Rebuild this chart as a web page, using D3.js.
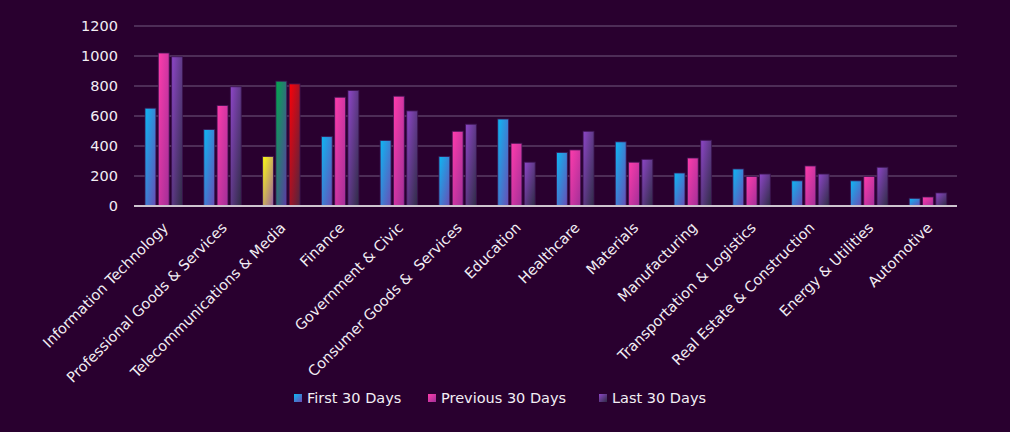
<!DOCTYPE html>
<html>
<head>
<meta charset="utf-8">
<script src="https://cdn.jsdelivr.net/npm/d3@7"></script>
<style>
  html, body { margin: 0; padding: 0; background: #29002f; }
  svg { display: block; }
</style>
</head>
<body>
<script>
// data
var categories = ["Information Technology", "Professional Goods & Services", "Telecommunications & Media",
  "Finance", "Government & Civic", "Consumer Goods &  Services", "Education", "Healthcare",
  "Materials", "Manufacturing", "Transportation & Logistics", "Real Estate & Construction",
  "Energy & Utilities", "Automotive"];
var seriesNames = ["First 30 Days", "Previous 30 Days", "Last 30 Days"];
var first30 = [652, 510, 330, 463, 437, 330, 580, 357, 428, 220, 247, 168, 168, 51];
var previous30 = [1020, 670, 832, 725, 732, 498, 418, 374, 292, 320, 197, 267, 197, 60];
var last30 = [995, 795, 814, 770, 634, 545, 292, 498, 311, 438, 213, 213, 258, 87];
var yTicks = [0, 200, 400, 600, 800, 1000, 1200];

var width = 1010, height = 432;
var plotLeft = 134, plotRight = 957, plotTop = 26, plotBottom = 206;

var svg = d3.select("body").append("svg")
  .attr("width", width)
  .attr("height", height);

// gradients per series (+ special ones used by the telecom group)
var grads = {
  g0: ["#0cb8f4", "#6a4cb4"],
  g1: ["#ff3cac", "#a12f98"],
  g2: ["#8e46c8", "#2e2c44"],
  gy: ["#ffff10", "#9a62a4"],
  gg: ["#00aa4c", "#5e3aa6"],
  gr: ["#ff0008", "#4e2640"]
};
var defs = svg.append("defs");
Object.keys(grads).forEach(function(k) {
  var lg = defs.append("linearGradient").attr("id", k)
    .attr("x1", 0).attr("y1", 0).attr("x2", 1).attr("y2", 1);
  lg.append("stop").attr("offset", "0%").attr("stop-color", grads[k][0]);
  lg.append("stop").attr("offset", "100%").attr("stop-color", grads[k][1]);
});

var x0 = d3.scaleBand().domain(categories).range([plotLeft, plotRight]);
var x1 = d3.scaleBand().domain(seriesNames).range([11, 48.5]).paddingInner(0.18);
var y = d3.scaleLinear().domain([0, 1200]).range([plotBottom, plotTop]);

// grid
svg.append("g").selectAll("line")
  .data(yTicks.slice(1))
  .enter().append("line")
  .attr("x1", plotLeft).attr("x2", plotRight)
  .attr("y1", function(d) { return y(d); })
  .attr("y2", function(d) { return y(d); })
  .attr("stroke", "#5a3c66")
  .attr("stroke-width", 1.5);

// y axis labels
var yAxis = d3.axisLeft(y).tickValues(yTicks).tickFormat(d3.format("d")).tickSize(0).tickPadding(16);
var ya = svg.append("g").attr("transform", "translate(" + plotLeft + ",0)").call(yAxis);
ya.select(".domain").remove();
ya.selectAll("text")
  .attr("fill", "#f2eef4")
  .style("font-family", "DejaVu Sans, sans-serif")
  .style("font-size", "14.5px");

// bars
var allSeries = [first30, previous30, last30];
var rows = [];
categories.forEach(function(c, i) {
  seriesNames.forEach(function(s, j) {
    var g = "g" + j;
    if (c == "Telecommunications & Media") g = ["gy", "gg", "gr"][j];
    rows.push({ cat: c, series: s, value: allSeries[j][i], grad: g });
  });
});

svg.append("g").selectAll("rect")
  .data(rows)
  .enter().append("rect")
  .attr("x", function(d) { return x0(d.cat) + x1(d.series); })
  .attr("y", function(d) { return y(d.value); })
  .attr("width", x1.bandwidth())
  .attr("height", function(d) { return y(0) - y(d.value); })
  .attr("fill", function(d) { return "url(#" + d.grad + ")"; })
  .attr("stroke", "rgba(60,20,80,0.8)")
  .attr("stroke-width", 1);

// baseline
svg.append("line")
  .attr("x1", plotLeft).attr("x2", plotRight)
  .attr("y1", y(0)).attr("y2", y(0))
  .attr("stroke", "#cdc4cf")
  .attr("stroke-width", 2);

// category labels
svg.append("g").selectAll("text")
  .data(categories)
  .enter().append("text")
  .attr("transform", function(d) {
    return "translate(" + (x0(d) + x0.bandwidth() / 2 + 2) + "," + 225 + ") rotate(-45)";
  })
  .attr("text-anchor", "end")
  .attr("dy", "0.35em")
  .attr("fill", "#f2eef4")
  .style("font-family", "DejaVu Sans, sans-serif")
  .style("font-size", "14.5px")
  .style("white-space", "pre")
  .text(function(d) { return d; });

// legend
var legendX = [294, 428, 599];
var lg = svg.append("g").selectAll("g")
  .data(seriesNames)
  .enter().append("g")
  .attr("transform", function(d, i) { return "translate(" + legendX[i] + ",394)"; });
lg.append("rect")
  .attr("width", 8).attr("height", 8)
  .attr("fill", function(d, i) { return "url(#g" + i + ")"; });
lg.append("text")
  .attr("x", 13).attr("y", 4).attr("dy", "0.36em")
  .attr("fill", "#f2eef4")
  .style("font-family", "DejaVu Sans, sans-serif")
  .style("font-size", "14.5px")
  .text(function(d) { return d; });
</script>
</body>
</html>
